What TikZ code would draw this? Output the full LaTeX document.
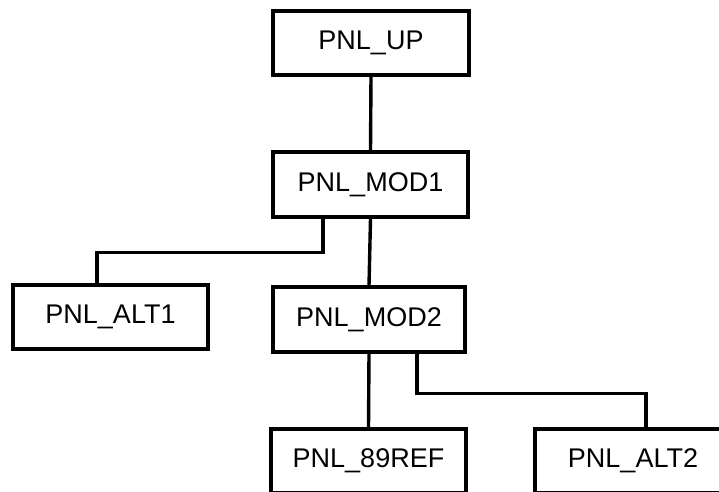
\documentclass[tikz,border=0pt]{standalone}
\usepackage{fontspec}
\setmainfont{Liberation Sans}
\begin{document}
\begin{tikzpicture}[x=1pt,y=-1pt,
  box/.style={draw, line width=3.2pt, inner sep=0pt, font=\fontsize{27}{31}\selectfont, minimum height=64pt},
  conn/.style={line width=3.4pt}]
\clip (0,0) rectangle (719,491);
\fill[white] (0,0) rectangle (719,491);
\node[box, minimum width=196pt] (up) at (371,43) {PNL\_UP};
\node[box, minimum width=195pt, minimum height=65pt] (mod1) at (370.5,184.5) {PNL\_MOD1};
\node[box, minimum width=195pt] (alt1) at (110.5,317) {PNL\_ALT1};
\node[box, minimum width=192pt, minimum height=65pt] (mod2) at (369,319.5) {PNL\_MOD2};
\node[box, minimum width=195pt] (ref) at (368.5,461) {PNL\_89REF};
\node[box, minimum width=196pt] (alt2) at (633,461) {PNL\_ALT2};
\draw[conn] (up.south) -- (mod1.north);
\draw[conn] (mod1.south) -- (mod2.north);
\draw[conn] (mod2.south) -- (ref.north);
\draw[conn] ([xshift=-47.5pt]mod1.south) -- ++(0,34) -| ([xshift=-13.5pt]alt1.north);
\draw[conn] ([xshift=48pt]mod2.south) -- ++(0,40) -| ([xshift=13pt]alt2.north);
\end{tikzpicture}
\end{document}
